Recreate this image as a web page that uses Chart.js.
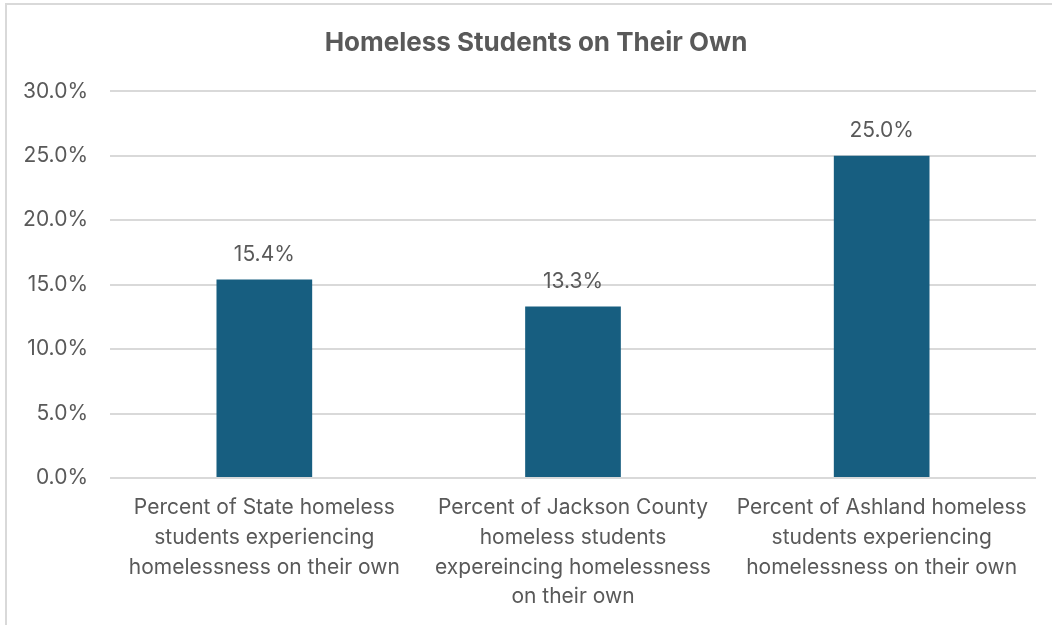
<!DOCTYPE html>
<html>
<head>
<meta charset="utf-8">
<script src="https://cdn.jsdelivr.net/npm/chart.js@4/dist/chart.umd.min.js"></script>
<style>
  html, body { margin: 0; padding: 0; background: #ffffff; }
  #wrap { position: relative; width: 1052px; height: 625px; overflow: hidden; }
  #frame { position: absolute; left: 5px; top: 3px; width: 1200px; height: 800px;
           border-left: 2px solid #d9d9d9; border-top: 2px solid #d9d9d9; }
  canvas { position: absolute; left: 0; top: 0; }
</style>
</head>
<body>
<div id="wrap">
  <div id="frame"></div>
  <canvas id="chart" width="1072" height="625"></canvas>
</div>
<script>
const categories = [
  ["Percent of State homeless", "students experiencing", "homelessness on their own"],
  ["Percent of Jackson County", "homeless students", "expereincing homelessness", "on their own"],
  ["Percent of Ashland homeless", "students experiencing", "homelessness on their own"]
];
const values = [15.4, 13.3, 25.0];
const yTicks = [0, 5, 10, 15, 20, 25, 30];

const textColor = '#595959';
const fontFamily = "Inter, 'Liberation Sans', Arial, sans-serif";

// Writes each bar's value just above the bar
const valueLabels = {
  id: 'valueLabels',
  afterDatasetsDraw(chart) {
    const ctx = chart.ctx;
    const meta = chart.getDatasetMeta(0);
    ctx.save();
    ctx.fillStyle = textColor;
    ctx.font = '21px ' + fontFamily;
    ctx.textAlign = 'center';
    ctx.textBaseline = 'middle';
    meta.data.forEach((bar, i) => {
      ctx.fillText(values[i].toFixed(1) + '%', bar.x, bar.y - 25);
    });
    ctx.restore();
  }
};

// Centres the title over the full frame width rather than the padded box
const titleOffset = {
  id: 'titleOffset',
  afterLayout(chart) {
    const t = chart.titleBlock;
    if (t) { t.left += 18; t.right += 18; }
  }
};

new Chart(document.getElementById('chart'), {
  type: 'bar',
  data: {
    labels: categories,
    datasets: [{
      data: values,
      backgroundColor: '#175e80',
      borderWidth: 0,
      categoryPercentage: 1.0,
      barPercentage: 0.31
    }]
  },
  options: {
    responsive: false,
    animation: false,
    layout: { padding: { left: 0, right: 36, top: 0, bottom: 13 } },
    plugins: {
      legend: { display: false },
      tooltip: { enabled: false },
      title: {
        display: true,
        text: 'Homeless Students on Their Own',
        color: textColor,
        font: { family: fontFamily, size: 26, weight: 'bold' },
        padding: { top: 28, bottom: 32 }
      }
    },
    scales: {
      y: {
        min: 0,
        max: 30,
        afterBuildTicks(axis) { axis.ticks = yTicks.map(v => ({ value: v })); },
        afterFit(axis) { axis.width = 110; },
        border: { display: false },
        grid: { color: '#d9d9d9', lineWidth: 2, drawTicks: false },
        ticks: {
          color: textColor,
          padding: 22,
          font: { family: fontFamily, size: 21 },
          callback: v => v.toFixed(1) + '%'
        }
      },
      x: {
        afterFit(axis) { axis.height = 134; },
        border: { display: false },
        grid: { display: false, drawTicks: false },
        ticks: {
          color: textColor,
          padding: 15,
          maxRotation: 0,
          autoSkip: false,
          font: { family: fontFamily, size: 21, lineHeight: 1.415 }
        }
      }
    }
  },
  plugins: [valueLabels, titleOffset]
});
</script>
</body>
</html>
